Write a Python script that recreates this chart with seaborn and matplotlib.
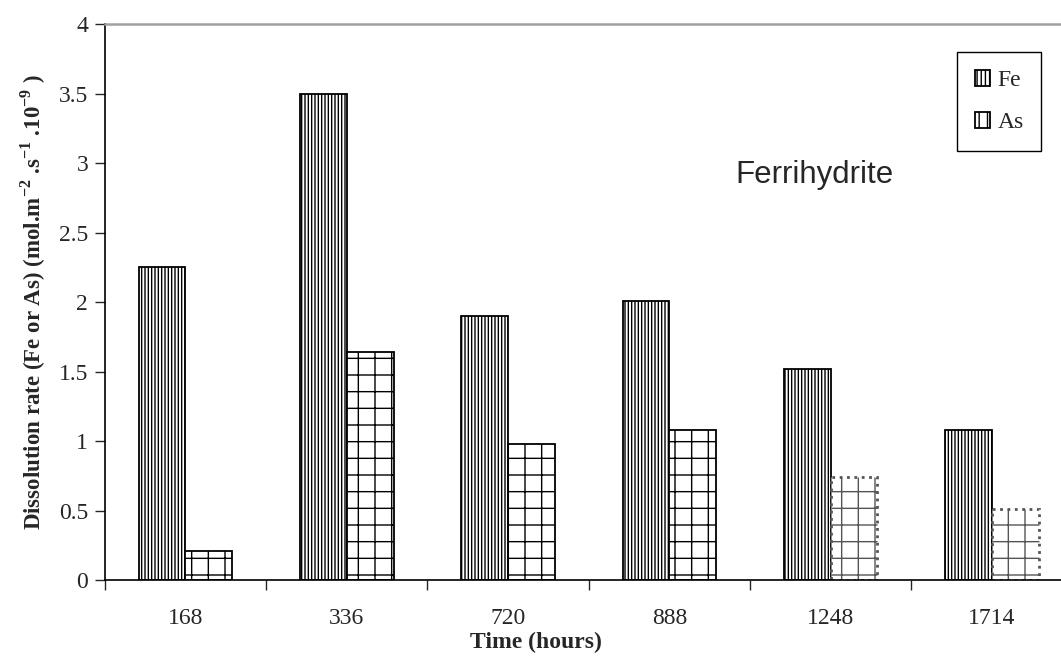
import numpy as np
import pandas as pd
import matplotlib
matplotlib.use("Agg")
import matplotlib.pyplot as plt
import seaborn as sns

times = ["168", "336", "720", "888", "1248", "1714"]
fe_rate = [2.25, 3.50, 1.90, 2.01, 1.52, 1.08]
as_rate = [0.21, 1.64, 0.98, 1.08, 0.74, 0.51]

df = pd.DataFrame({
    "time": times * 2,
    "rate": fe_rate + as_rate,
    "element": ["Fe"] * len(times) + ["As"] * len(times),
})

sns.set_style("ticks")
plt.rcParams["font.family"] = ["Liberation Serif", "DejaVu Serif"]
plt.rcParams["mathtext.fontset"] = "custom"
plt.rcParams["mathtext.rm"] = "Liberation Serif:bold"
plt.rcParams["mathtext.bf"] = "Liberation Serif:bold"
plt.rcParams["hatch.linewidth"] = 1.0

fig = plt.figure(figsize=(10.61, 6.57), dpi=100)
# the original chart is cropped on the right, so the axes run past the figure edge
ax = fig.add_axes([0.0988, 0.117, 0.912, 0.846])

sns.barplot(df, x="time", y="rate", hue="element", order=times,
            hue_order=["Fe", "As"], width=0.58, gap=0, dodge=True,
            palette=["white", "white"], edgecolor="black", linewidth=1.3,
            saturation=1, ax=ax)

for bar in ax.containers[0]:
    bar.set_hatch("|||||")
for i, bar in enumerate(ax.containers[1]):
    bar.set_hatch("+")
    if i >= 4:
        # last two As bars have a dotted grid
        bar.set_edgecolor("#555555")
        bar.set_linestyle(":")
        bar.set_linewidth(2.0)

ax.set_ylim(0, 4)
ax.set_yticks(np.arange(0, 4.01, 0.5))
ax.set_yticklabels(["0", "0.5", "1", "1.5", "2", "2.5", "3", "3.5", "4"])
ax.set_xlim(-0.5, 5.5)
ax.set_xticks(np.arange(-0.5, 6.0, 1.0))
ax.set_xticklabels([])
ax.set_xticks(range(len(times)), minor=True)
ax.set_xticklabels(times, minor=True)
ax.tick_params(axis="x", which="minor", length=0, pad=20, labelsize=17)
ax.tick_params(axis="x", which="major", length=7, width=1, direction="out")
ax.tick_params(axis="y", length=7, width=1, direction="out", labelsize=17, pad=5)

for s in ["left", "bottom"]:
    ax.spines[s].set_color("black")
    ax.spines[s].set_linewidth(1.2)
for s in ["top", "right"]:
    ax.spines[s].set_visible(True)
    ax.spines[s].set_color("#a0a0a0")
    ax.spines[s].set_linewidth(1.8)

ax.set_xlabel("Time (hours)", fontsize=17, fontweight="bold", labelpad=2)
ax.xaxis.label.set_x(0.446)
ax.set_ylabel(r"Dissolution rate (Fe or As) (mol.m$^{-2}$ .s$^{-1}$ .10$^{-9}$ )",
              fontsize=16.5, fontweight="bold", labelpad=8)

ax.text(0.733, 0.728, "Ferrihydrite", transform=ax.transAxes, fontsize=22.5,
        family="Liberation Sans", ha="center", va="center")

leg = ax.legend(loc="upper right", bbox_to_anchor=(0.968, 0.95), borderaxespad=0,
                fontsize=17, frameon=True, fancybox=False, handlelength=0.65,
                handleheight=0.65, handletextpad=0.3, labelspacing=0.9,
                borderpad=0.75, edgecolor="black")
leg.get_frame().set_linewidth(1.0)
leg.get_frame().set_alpha(1)
leg.legend_handles[0].set_hatch("||||")
leg.legend_handles[1].set_hatch("||")

fig.savefig("out.png", dpi=100)
